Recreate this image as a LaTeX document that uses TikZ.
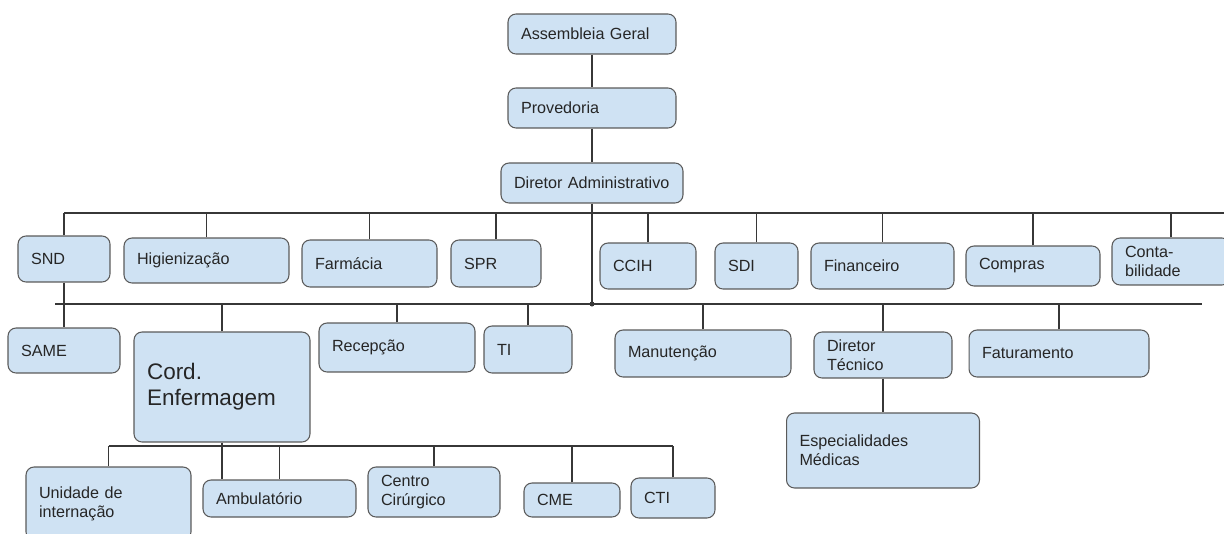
\documentclass[tikz,border=0pt]{standalone}
\usepackage{fontspec}
\setmainfont{Liberation Sans}
\definecolor{boxfill}{RGB}{207,226,243}
\definecolor{boxline}{RGB}{90,90,90}
\definecolor{linegray}{RGB}{55,55,55}
\begin{document}
\begin{tikzpicture}[x=0.02cm, y=-0.02cm,
	unit/.style={draw=boxline, fill=boxfill, rounded corners=0.16cm, line width=0.6pt, font=\fontsize{9.2}{10.8}\selectfont, align=left, inner xsep=0.26cm, inner ysep=0pt, text=black!85},
	wire/.style={draw=linegray, line width=0.6pt}]

	\useasboundingbox (0,0) rectangle (1224,534);

	\node[unit, text width=2.84cm, minimum height=0.8cm] (assembleia) at (592,34) {Assembleia Geral};
	\node[unit, text width=2.84cm, minimum height=0.8cm] (provedoria) at (592,108) {Provedoria};
	\node[unit, text width=3.12cm, minimum height=0.8cm] (diretor) at (592,183) {Diretor Administrativo};

	\node[unit, text width=1.32cm, minimum height=0.92cm] (snd) at (64,259) {SND};
	\node[unit, text width=2.78cm, minimum height=0.90cm] (higienizacao) at (206.5,260.5) {Higienização};
	\node[unit, text width=2.18cm, minimum height=0.94cm] (farmacia) at (369.5,263.5) {Farmácia};
	\node[unit, text width=1.28cm, minimum height=0.94cm] (spr) at (496,263.5) {SPR};
	\node[unit, text width=1.40cm, minimum height=0.92cm] (ccih) at (648,266) {CCIH};
	\node[unit, text width=1.14cm, minimum height=0.92cm] (sdi) at (756.5,266) {SDI};
	\node[unit, text width=2.34cm, minimum height=0.92cm] (financeiro) at (882.5,266) {Financeiro};
	\node[unit, text width=2.16cm, minimum height=0.80cm] (compras) at (1033,266) {Compras};
	\node[unit, text width=1.84cm, minimum height=0.94cm] (contabilidade) at (1171,261.5) {Conta-\\bilidade};

	\node[unit, text width=1.72cm, minimum height=0.90cm] (same) at (64,350.5) {SAME};
	\node[unit, text width=3.00cm, minimum height=2.20cm, font=\fontsize{12.8}{15}\selectfont] (cord) at (222,387) {Cord.\\Enfermagem};
	\node[unit, text width=2.60cm, minimum height=0.98cm] (recepcao) at (397,347.5) {Recepção};
	\node[unit, text width=1.24cm, minimum height=0.94cm] (ti) at (528,349.5) {TI};
	\node[unit, text width=3.00cm, minimum height=0.94cm] (manutencao) at (703,353.5) {Manutenção};
	\node[unit, text width=2.24cm, minimum height=0.92cm] (tecnico) at (883,355) {Diretor\\Técnico};
	\node[unit, text width=3.08cm, minimum height=0.94cm] (faturamento) at (1059,353.5) {Faturamento};
	\node[unit, text width=3.34cm, minimum height=1.50cm] (especialidades) at (883,450.5) {Especialidades\\Médicas};

	\node[unit, text width=2.78cm, minimum height=1.46cm] (unidade) at (108.5,503.5) {Unidade de\\internação};
	\node[unit, text width=2.54cm, minimum height=0.74cm] (ambulatorio) at (279.5,498.5) {Ambulatório};
	\node[unit, text width=2.12cm, minimum height=1.00cm] (centro) at (434,492) {Centro\\Cirúrgico};
	\node[unit, text width=1.40cm, minimum height=0.68cm] (cme) at (572,500) {CME};
	\node[unit, text width=1.16cm, minimum height=0.80cm] (cti) at (673,498) {CTI};

	\coordinate (topL) at (64,213);
	\coordinate (topR) at (1224,213);
	\coordinate (midL) at (55,304);
	\coordinate (midR) at (1202,304);
	\coordinate (lowL) at (108.5,446);
	\coordinate (lowR) at (673,446);

	\draw[wire] (assembleia) -- (provedoria);
	\draw[wire] (provedoria) -- (diretor);
	\draw[wire] (diretor.south) -- (diretor.south |- midL);
	\fill[linegray] (diretor.south |- midL) circle[radius=2.5];

	\draw[wire] (topL) -- (topR);
	\draw[wire] (midL) -- (midR);
	\draw[wire] (lowL) -- (lowR);

	\foreach \n in {snd, higienizacao, farmacia, spr, ccih, sdi, financeiro, compras, contabilidade}
		\draw[wire] (\n.north) -- (\n.north |- topL);
	\draw[wire] (snd.south) -- (same.north);
	\foreach \n in {cord, recepcao, ti, manutencao, tecnico, faturamento}
		\draw[wire] (\n.north) -- (\n.north |- midL);
	\draw[wire] (tecnico) -- (especialidades);
	\draw[wire] (cord.south) -- (cord.south |- ambulatorio.north);
	\foreach \n in {unidade, ambulatorio, centro, cme, cti}
		\draw[wire] (\n.north) -- (\n.north |- lowL);
\end{tikzpicture}
\end{document}
